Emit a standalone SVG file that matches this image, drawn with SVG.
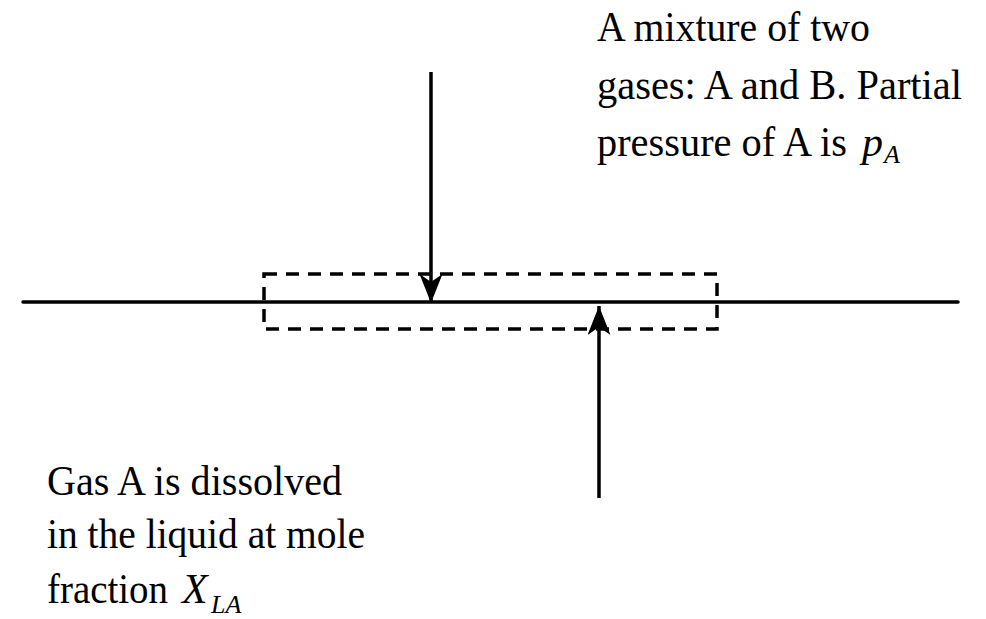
<svg xmlns="http://www.w3.org/2000/svg" width="986" height="619" viewBox="0 0 986 619">
<style>
.t{font-family:"Liberation Serif","Times New Roman",serif;font-size:42px;fill:#000}
.i{font-style:italic}
.s{font-family:"Liberation Serif","Times New Roman",serif;font-size:26px;font-style:italic;fill:#000}
.ln{stroke:#000;stroke-width:3.5;fill:none}
.dash{stroke:#000;stroke-width:3.5;fill:none;stroke-dasharray:13 9}
</style>
<defs>
<marker id="ah" markerUnits="userSpaceOnUse" markerWidth="29" markerHeight="23" viewBox="0 0 29 23" refX="29" refY="11.5" orient="auto">
<path d="M0,0 L29,11.5 L0,23 L8,11.5 Z" fill="#000"/>
</marker>
</defs>
<rect width="986" height="619" fill="#fff"/>
<g id="surface"><line class="ln" x1="23" y1="302" x2="958" y2="302" stroke-linecap="round"/></g>
<g id="interface-box"><rect class="dash" x="264" y="274" width="453" height="55"/></g>
<g id="connectors">
<line class="ln" x1="431" y1="72" x2="431" y2="303" marker-end="url(#ah)"/>
<line class="ln" x1="599" y1="498" x2="599" y2="306" marker-end="url(#ah)"/>
</g>
<g id="gas-label">
<text class="t" x="597" y="41" textLength="273" lengthAdjust="spacingAndGlyphs">A mixture of two</text>
<text class="t" x="597" y="99" textLength="365" lengthAdjust="spacingAndGlyphs">gases: A and B. Partial</text>
<text class="t" x="597" y="156" textLength="250" lengthAdjust="spacingAndGlyphs">pressure of A is</text>
<text class="t i" x="862" y="156">p</text>
<text class="s" x="884" y="163">A</text>
</g>
<g id="liquid-label">
<text class="t" x="47" y="495" textLength="295" lengthAdjust="spacingAndGlyphs">Gas A is dissolved</text>
<text class="t" x="47" y="548" textLength="318" lengthAdjust="spacingAndGlyphs">in the liquid at mole</text>
<text class="t" x="47" y="603" textLength="121" lengthAdjust="spacingAndGlyphs">fraction</text>
<text class="t i" x="182" y="603">X</text>
<text class="s" x="211" y="613">LA</text>
</g>
</svg>
